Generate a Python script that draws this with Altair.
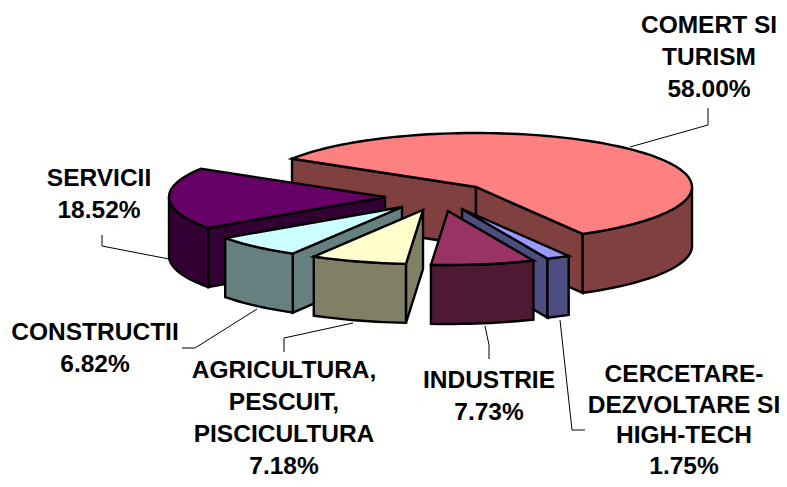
import math
import altair as alt

# values, in drawing order around the pie (clockwise from the start angle)
names = ["COMERT SI TURISM", "CERCETARE-DEZVOLTARE SI HIGH-TECH", "INDUSTRIE",
         "AGRICULTURA, PESCUIT, PISCICULTURA", "CONSTRUCTII", "SERVICII"]
values = [58.00, 1.75, 7.73, 7.18, 6.82, 18.52]
label_lines = [["COMERT SI", "TURISM"], ["CERCETARE-", "DEZVOLTARE SI", "HIGH-TECH"], ["INDUSTRIE"],
               ["AGRICULTURA,", "PESCUIT,", "PISCICULTURA"], ["CONSTRUCTII"], ["SERVICII"]]

# pie layout
top_colors = ["#FF8080", "#9999FF", "#993366", "#FFFFCC", "#CCFFFF", "#660066"]
side_colors = ["#804040", "#4D4D80", "#4D1933", "#808066", "#668080", "#330033"]
apex_x = [476, 462, 448, 423, 402, 385]
apex_y = [187, 209, 211, 210, 207, 197]
label_x = [709, 684, 489, 284, 95, 99]
label_y = [26, 375, 381, 371, 333, 179]
label_step = [32, 30.7, 32, 32, 32, 32]
paint_order = [0, 5, 4, 3, 1, 2]
RX, RY, DEPTH = 216, 54, 59
START = -58.4

leaders = [
    [(630, 147), (708, 125), (708, 108)],
    [(560, 320), (572, 430), (585, 430)],
    [(485, 326), (489, 345), (489, 359)],
    [(353, 323), (284, 338), (284, 352)],
    [(257, 309), (195, 348), (182, 348)],
    [(169, 259), (102, 246), (102, 235)],
]


def rim(cx, cy, a, b, dz=0):
    n = max(2, int(abs(b - a) / 2) + 1)
    out = []
    for i in range(n + 1):
        t = math.radians(a + (b - a) * i / n)
        out.append((cx + RX * math.sin(t), cy - RY * math.cos(t) + dz))
    return out


def poly(points, fill):
    ring = [list(p) for p in points] + [list(points[0])]
    return {"type": "Feature", "properties": {"fill": fill},
            "geometry": {"type": "Polygon", "coordinates": [ring]}}


def down(p):
    return (p[0], p[1] + DEPTH)


angles = []
cur = START
for v in values:
    angles.append((cur, cur + v * 3.6))
    cur += v * 3.6

features = []
for i in paint_order:
    a, b = angles[i]
    cx, cy = apex_x[i], apex_y[i]
    top, side = top_colors[i], side_colors[i]
    apex = (cx, cy)
    # cut faces, drawn when the outward normal points towards the viewer
    for ang, sign in ((a, -1), (b, 1)):
        t = math.radians(ang)
        if sign * (-math.sin(t)) < 0:
            e = (cx + RX * math.sin(t), cy - RY * math.cos(t))
            features.append(poly([apex, e, down(e), down(apex)], side))
    # outer wall, only the front half of the ellipse
    lo, hi = max(a, 90), min(b, 270)
    if lo < hi:
        upper = rim(cx, cy, lo, hi)
        lower = rim(cx, cy, hi, lo, DEPTH)
        features.append(poly(upper + lower, side))
    features.append(poly([apex] + rim(cx, cy, a, b), top))

lines = [{"type": "Feature", "properties": {},
          "geometry": {"type": "LineString", "coordinates": [list(p) for p in pts]}} for pts in leaders]

text_rows = []
for i, n in enumerate(names):
    rows = label_lines[i] + [f"{values[i]:.2f}%"]
    for j, r in enumerate(rows):
        text_rows.append({"series": n, "text": r, "lon": label_x[i], "lat": label_y[i] + j * label_step[i]})

proj = dict(type="identity", scale=1, translate=[-8, -8])

leader_layer = alt.Chart(alt.Data(values=lines)).mark_geoshape(
    filled=False, stroke="#000000", strokeWidth=1).project(**proj)
pie_layer = alt.Chart(alt.Data(values=features)).mark_geoshape(
    stroke="#000000", strokeWidth=2.4, strokeJoin="miter").encode(
    color=alt.Color("properties.fill:N", scale=None)).project(**proj)
text_layer = alt.Chart(alt.Data(values=text_rows)).mark_text(
    font="Liberation Sans", fontWeight="bold", fontSize=24.5, color="#000000",
    align="center", baseline="middle").encode(
    longitude="lon:Q", latitude="lat:Q", text="text:N").project(**proj)

chart = alt.layer(leader_layer, pie_layer, text_layer).properties(
    width=771, height=471, padding=0, background="#ffffff"
).configure_view(stroke=None)

chart.save("out.html", embed_options={"renderer": "svg", "actions": False})
